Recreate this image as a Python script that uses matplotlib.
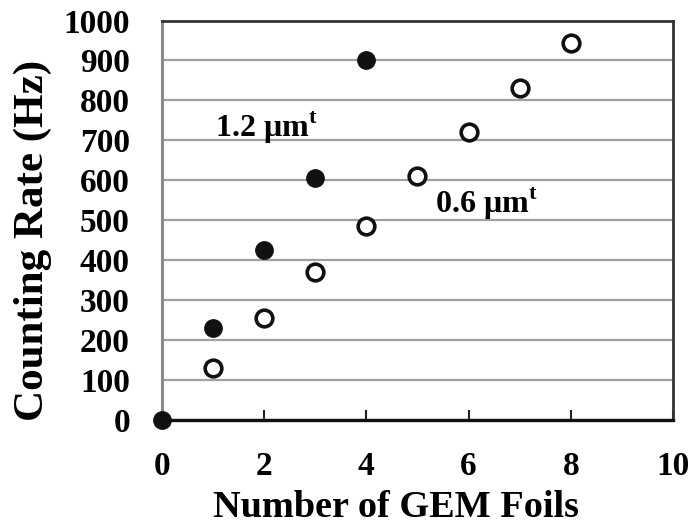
# Import libraries
import matplotlib
matplotlib.use("Agg")
import matplotlib.pyplot as plt

# Data
foils_thick = [0, 1, 2, 3, 4]
rate_thick = [0, 230, 425, 605, 900]  # 1.2 um foils (filled)

foils_thin = [1, 2, 3, 4, 5, 6, 7, 8]
rate_thin = [130, 255, 370, 485, 610, 720, 830, 945]  # 0.6 um foils (open)

x_ticks = [0, 2, 4, 6, 8, 10]
y_ticks = list(range(0, 1001, 100))

# Fonts: bold Times-like serif everywhere
plt.rcParams["font.family"] = ["Liberation Serif", "DejaVu Serif"]
plt.rcParams["font.weight"] = "bold"
plt.rcParams["mathtext.fontset"] = "custom"
plt.rcParams["mathtext.rm"] = "Liberation Serif:bold"
plt.rcParams["mathtext.bf"] = "Liberation Serif:bold"

fig = plt.figure(figsize=(6.92, 5.27), dpi=100)
ax = fig.add_axes([0.234, 0.203, 0.7385, 0.758])

# Grid lines behind the points
ax.set_axisbelow(True)
ax.yaxis.grid(True, color="#a0a0a0", linewidth=1.6)

ax.plot(foils_thick, rate_thick, "o", color="#111111", markersize=12.5,
        clip_on=False, zorder=3)
ax.plot(foils_thin, rate_thin, "o", markerfacecolor="white",
        markeredgecolor="#111111", markeredgewidth=2.6, markersize=12,
        clip_on=False, zorder=3)

ax.set_xlim(0, 10)
ax.set_ylim(0, 1000)
ax.set_xticks(x_ticks)
ax.set_yticks(y_ticks)
ax.tick_params(axis="x", direction="in", length=7, width=1.5,
               labelsize=24, pad=22, color="#222222")
ax.tick_params(axis="y", length=0, labelsize=24, pad=23)

# Spines as in the original Excel-style frame
ax.spines["left"].set_color("#8a8a8a")
ax.spines["left"].set_linewidth(2.2)
ax.spines["bottom"].set_color("#111111")
ax.spines["bottom"].set_linewidth(2.4)
ax.spines["top"].set_color("#333333")
ax.spines["top"].set_linewidth(2.0)
ax.spines["right"].set_color("#333333")
ax.spines["right"].set_linewidth(2.0)

ax.set_xlabel("Number of GEM Foils", fontsize=27.5, fontweight="bold")
ax.set_ylabel("Counting Rate (Hz)", fontsize=31, fontweight="bold")
ax.xaxis.set_label_coords(0.458, -0.176)
ax.yaxis.set_label_coords(-0.215, 0.45)

# Series annotations
ax.text(1.03, 732, r"1.2 μm$^{\mathbf{t}}$", fontsize=23, fontweight="bold",
        va="center", ha="left")
ax.text(5.34, 542, r"0.6 μm$^{\mathbf{t}}$", fontsize=23, fontweight="bold",
        va="center", ha="left")

plt.savefig("out.png", dpi=100)
